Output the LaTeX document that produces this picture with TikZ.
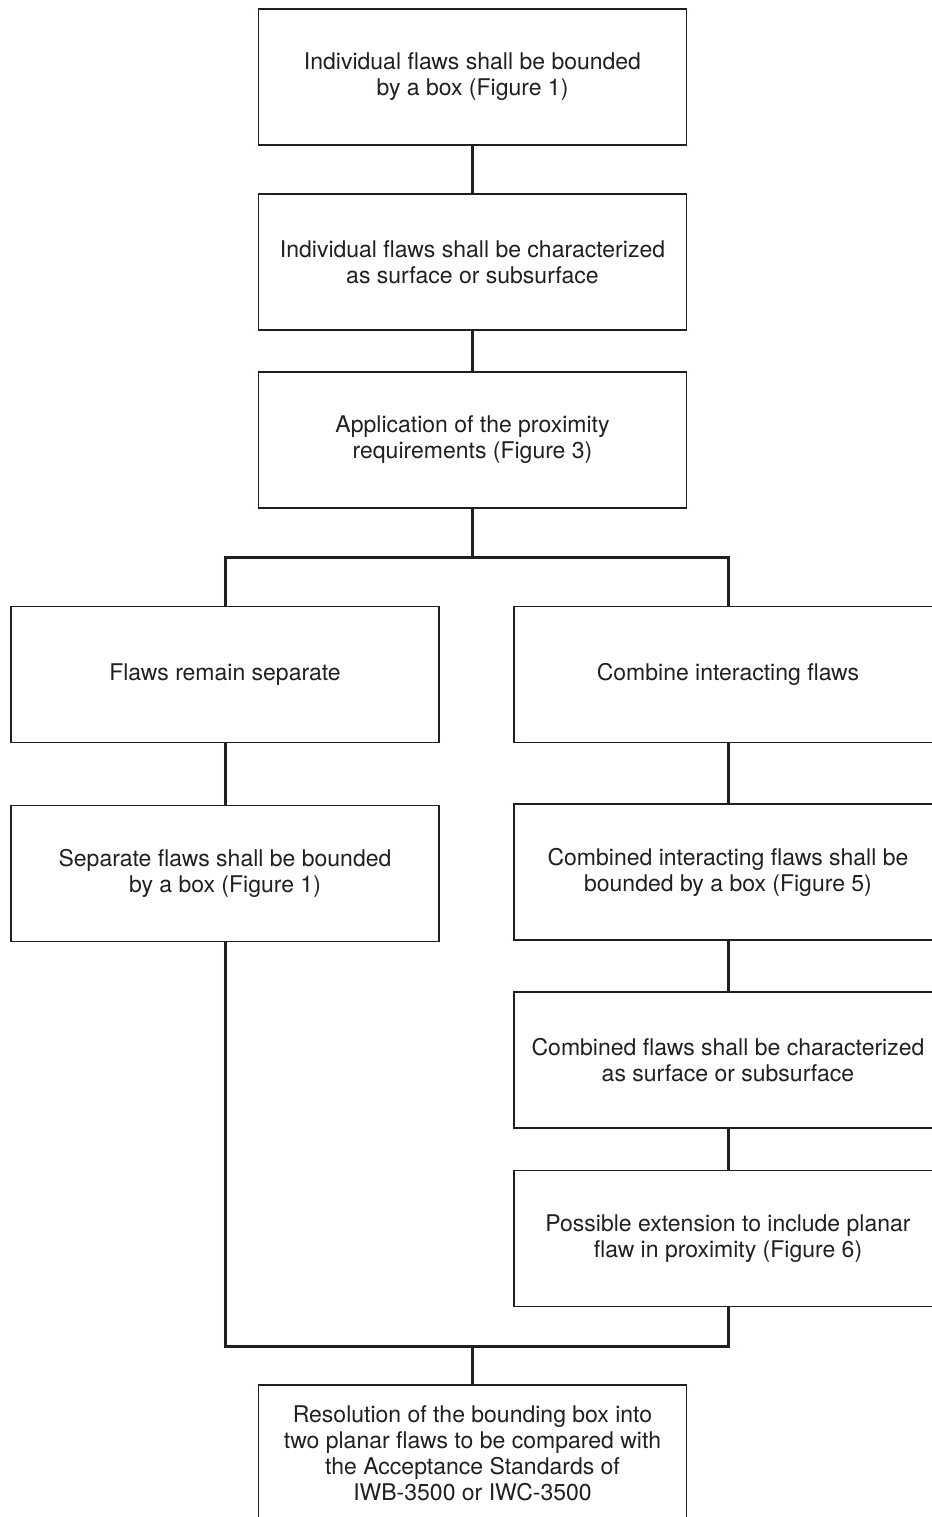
\documentclass[tikz,border=0pt]{standalone}
\usepackage{fontspec}
\setmainfont{TeX Gyre Heros}
\usetikzlibrary{positioning}
\definecolor{InkGray}{RGB}{35,31,32}

\begin{document}
\begin{tikzpicture}[x=0.5pt,y=-0.5pt,
  flowbox/.style={draw=InkGray,line width=.6pt,minimum width=214pt,minimum height=68pt,
    align=center,text=InkGray,font=\fontsize{11.5}{13}\selectfont,inner sep=0pt},
  link/.style={draw=InkGray,line width=1.5pt}]
\useasboundingbox (0,0) rectangle (932,1517);\clip (0,0) rectangle (932,1517);
% main column
\node[flowbox] (bound) at (472.5,77){Individual flaws shall be bounded\\by a box (Figure 1)};
\node[flowbox] (char) at (472.5,262){Individual flaws shall be characterized\\as surface or subsurface};
\node[flowbox] (prox) at (472.5,440){Application of the proximity\\requirements (Figure 3)};
% left branch
\node[flowbox] (sep) at (225,674.5){Flaws remain separate};
\node[flowbox] (sepbox) at (225,873.5){Separate flaws shall be bounded\\by a box (Figure 1)};
% right branch
\node[flowbox] (comb) at (728,674.5){Combine interacting flaws};
\node[flowbox] (combbox) at (728,872){Combined interacting flaws shall be\\bounded by a box (Figure 5)};
\node[flowbox] (combchar) at (728,1060){Combined flaws shall be characterized\\as surface or subsurface};
\node[flowbox] (ext) at (728,1238.5){Possible extension to include planar\\flaw in proximity (Figure 6)};
% result
\node[flowbox] (res) at (472.5,1453){Resolution of the bounding box into\\two planar flaws to be compared with\\the Acceptance Standards of\\IWB-3500 or IWC-3500};
\coordinate (split) at (472.5,557);\coordinate (merge) at (472.5,1346);
\draw[link] (bound)--(char);\draw[link] (char)--(prox);\draw[link] (prox)--(split);
\draw[link] (sep.north)|-(split)-|(comb.north);
\draw[link] (sep)--(sepbox);\draw[link] (comb)--(combbox);\draw[link] (combbox)--(combchar);\draw[link] (combchar)--(ext);
\draw[link] (sepbox.south)|-(merge)-|(ext.south);\draw[link] (merge)--(res);
\end{tikzpicture}
\end{document}
